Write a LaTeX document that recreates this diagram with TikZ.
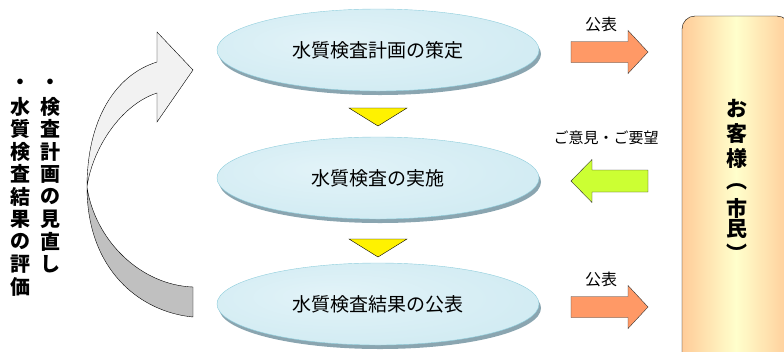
\documentclass[tikz,border=0pt]{standalone}
\usepackage{fontspec}
\setmainfont{Noto Sans CJK JP}
\usetikzlibrary{shapes.geometric,shadows}

\definecolor{stageedge}{HTML}{8ECDDC}
\definecolor{stagein}{HTML}{E2F3F8}
\definecolor{stageout}{HTML}{A0D4E2}
\definecolor{stageshadow}{HTML}{8AA5B0}
\definecolor{pubfill}{HTML}{FF9966}
\definecolor{askfill}{HTML}{CCFF33}
\definecolor{custside}{HTML}{FFCC99}
\definecolor{custmid}{HTML}{FFFFCC}
\definecolor{loopfront}{HTML}{F2F2F2}
\definecolor{loopback}{HTML}{C0C0C0}

\pgfdeclareradialshading{stageglow}{\pgfpoint{-8bp}{6bp}}{color(0bp)=(stagein); color(30bp)=(stagein!75!stageout); color(50bp)=(stageout)}

\begin{document}
\begin{tikzpicture}[x=1bp,y=-1bp,
  stage/.style={ellipse, draw=stageedge, shading=stageglow,
    minimum width=322bp, minimum height=82bp,
    font=\fontsize{19bp}{22bp}\selectfont,
    drop shadow={shadow xshift=2bp, shadow yshift=-4bp, fill=stageshadow, opacity=1}},
  vtext/.style={inner sep=0pt, font=\bfseries\fontsize{20bp}{22bp}\selectfont},
  lbl/.style={inner sep=0pt, font=\fontsize{16bp}{18bp}\selectfont}]

  \useasboundingbox (0,0) rectangle (784,351);

  % the three steps of the plan
  \node[stage] (plan) at (378,50) {水質検査計画の策定};
  \node[stage] (exec) at (378,178) {水質検査の実施};
  \node[stage] (publ) at (378,304) {水質検査結果の公表};

  \foreach \y in {108,239}{% yellow markers between the steps
    \filldraw[fill=yellow, draw=black] (349,\y) -- +(58,0) -- +(29,18) -- cycle;}

  % customer box on the right
  \node[draw=black, rounded corners=13bp, left color=custside, right color=custside,
    middle color=custmid, minimum width=108bp, minimum height=350bp,
    inner sep=0pt] (cust) at (736,191) {};

  \foreach \c/\y [count=\i] in {お/109,客/134,様/159,︵/187,市/208,民/229,︶/253}{% vertical text in the box
    \node[vtext, font=\bfseries\fontsize{21bp}{23bp}\selectfont] (cust\i) at (737,\y) {\c};}

  % publish arrows and the feedback arrow
  \foreach \y/\n in {52/pubtop,307/pubbot}{%
    \filldraw[fill=pubfill, draw=black!80] (571,\y) coordinate (\n) -- +(0,-10.5) -- +(57,-10.5) -- +(57,-21.5)
      -- +(77,0) -- +(57,21.5) -- +(57,10.5) -- +(0,10.5) -- cycle;
    \node[lbl] (\n lbl) at (601,\y-28) {公表};}

  \filldraw[fill=askfill, draw=black!80] (571,181) coordinate (ask) -- +(21,-21.5) -- +(21,-11) -- +(77,-11)
    -- +(77,11) -- +(21,11) -- +(21,21.5) -- cycle;
  \node[lbl, font=\fontsize{15bp}{17bp}\selectfont] (asklbl) at (606,138) {ご意見・ご要望};

  % curved return arrow, back part then front part
  \filldraw[fill=loopback, draw=black] (87,187) .. controls (87,270) and (140,312) .. (193,317)
    -- (193,287) .. controls (140,285) and (95,240) .. (87,187) -- cycle;
  \filldraw[fill=loopfront, draw=black] (87,187) .. controls (87,120) and (115,75) .. (157,62)
    -- (157,32) -- (193,70) -- (157,122) -- (157,93) .. controls (120,105) and (92,150) .. (87,187) -- cycle;

  % vertical notes on the left
  \foreach \c [count=\i] in {・,検,査,計,画,の,見,直,し}{%
    \node[vtext] (review\i) at (50,{84+(\i-1)*22.5}) {\c};}
  \foreach \c [count=\i] in {・,水,質,検,査,結,果,の,評,価}{%
    \node[vtext] (eval\i) at (20,{84+(\i-1)*22.5}) {\c};}

\end{tikzpicture}
\end{document}
